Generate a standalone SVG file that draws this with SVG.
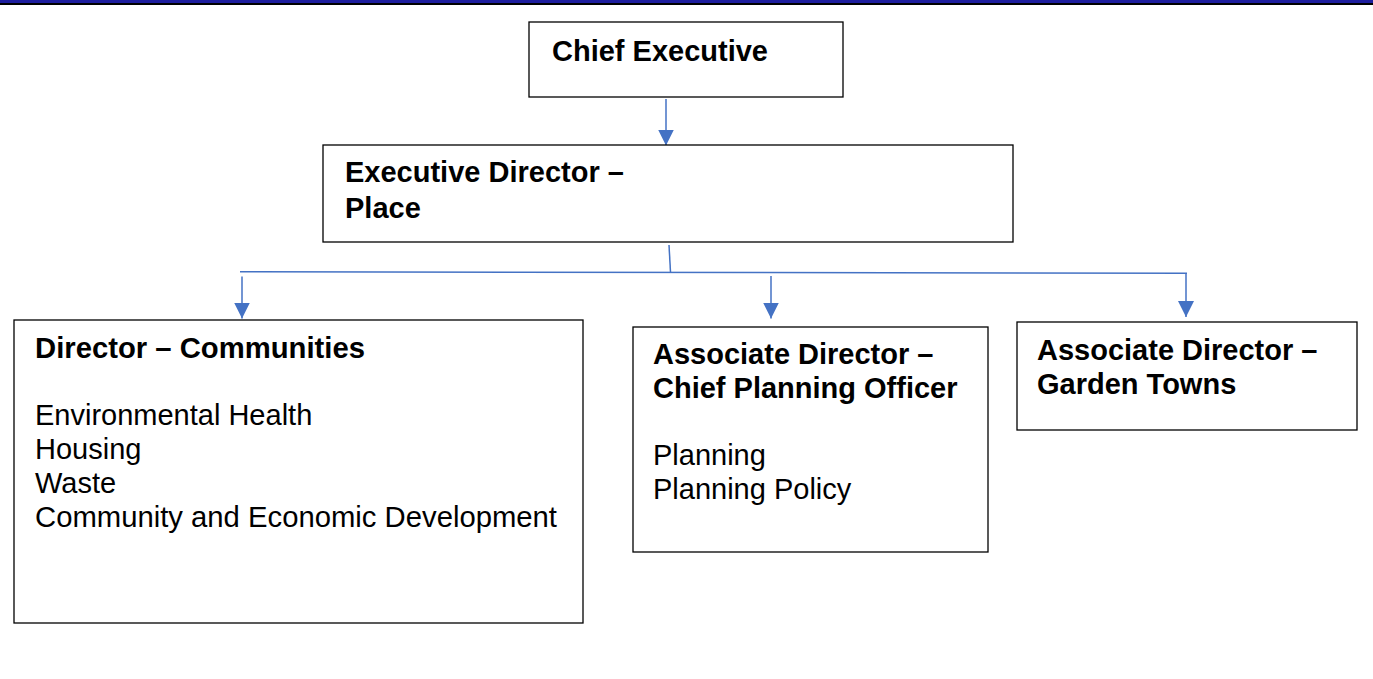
<svg xmlns="http://www.w3.org/2000/svg" width="1373" height="679" viewBox="0 0 1373 679">
<style>
.box{fill:#fff;stroke:#000;stroke-width:1.3}
.t{font-family:"Liberation Sans",Arial,sans-serif;font-size:29px;fill:#000}
.b{font-weight:bold}
.c{fill:none;stroke:#4472C4;stroke-width:1.5}
</style>
<defs>
<marker id="ah" viewBox="0 0 16 16" refX="16" refY="8" markerWidth="16" markerHeight="16" markerUnits="userSpaceOnUse" orient="auto">
<path d="M0,0 L16,8 L0,16 z" fill="#4472C4"/>
</marker>
</defs>
<rect width="1373" height="679" fill="#fff"/>
<rect x="0" y="0" width="1373" height="3" fill="#1e1e9e"/>
<rect x="0" y="3" width="1373" height="2" fill="#000"/>
<g id="connectors">
<line class="c" x1="666" y1="99" x2="666" y2="145.5" marker-end="url(#ah)"/>
<line class="c" x1="669" y1="245" x2="670.5" y2="272"/>
<line class="c" x1="240" y1="271.7" x2="1187" y2="273.3"/>
<line class="c" x1="242" y1="276.5" x2="242" y2="318.5" marker-end="url(#ah)"/>
<line class="c" x1="771" y1="276" x2="771" y2="318.5" marker-end="url(#ah)"/>
<line class="c" x1="1186" y1="273" x2="1186" y2="317" marker-end="url(#ah)"/>
</g>
<g id="chief-executive">
<rect class="box" x="529" y="22" width="314" height="75"/>
<text class="t b" x="552" y="61">Chief Executive</text>
</g>
<g id="executive-director">
<rect class="box" x="323" y="145" width="690" height="97"/>
<text class="t b" x="345" y="182">Executive Director –</text>
<text class="t b" x="345" y="218">Place</text>
</g>
<g id="director-communities">
<rect class="box" x="14" y="320" width="569" height="303"/>
<text class="t b" x="35" y="358" textLength="330" lengthAdjust="spacingAndGlyphs">Director – Communities</text>
<text class="t" x="35" y="425">Environmental Health</text>
<text class="t" x="35" y="459">Housing</text>
<text class="t" x="35" y="493">Waste</text>
<text class="t" x="35" y="527" textLength="522" lengthAdjust="spacingAndGlyphs">Community and Economic Development</text>
</g>
<g id="associate-director-cpo">
<rect class="box" x="633" y="327" width="355" height="225"/>
<text class="t b" x="653" y="364">Associate Director –</text>
<text class="t b" x="653" y="398">Chief Planning Officer</text>
<text class="t" x="653" y="465">Planning</text>
<text class="t" x="653" y="499">Planning Policy</text>
</g>
<g id="associate-director-gt">
<rect class="box" x="1017" y="322" width="340" height="108"/>
<text class="t b" x="1037" y="360">Associate Director –</text>
<text class="t b" x="1037" y="394">Garden Towns</text>
</g>
</svg>
